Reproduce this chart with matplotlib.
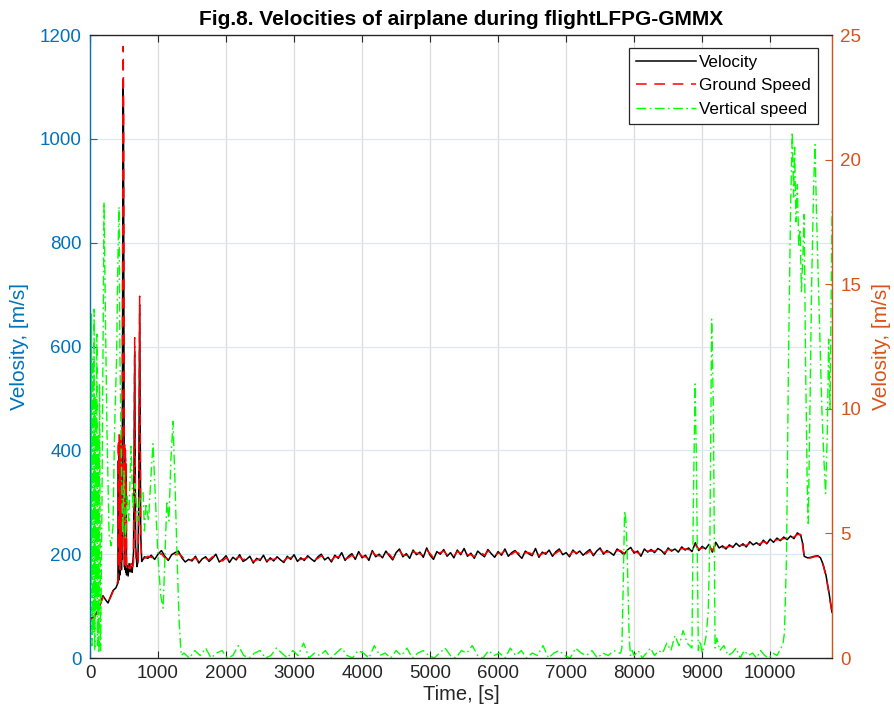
import numpy as np
import matplotlib
matplotlib.use("Agg")
import matplotlib.pyplot as plt

plt.rcParams['font.family'] = ['Liberation Sans', 'DejaVu Sans']

# ---------------- data ----------------
# take-off / climb phase (irregular samples)
early_time = [0, 60, 120, 190, 230, 265, 300, 338, 380, 412,
              417, 422, 427, 432, 437, 442, 447, 452, 457, 462, 467, 472, 477, 482, 487,
              492, 497, 502, 507, 512, 517, 522, 527, 532, 537, 545,
              560, 575, 590, 605, 620, 640, 657, 670, 690, 705, 715, 730, 745, 760, 780]
early_velocity = [75, 80, 92, 120, 112, 106, 118, 130, 135, 145,
                  380, 150, 400, 165, 390, 160, 420, 175, 380, 170, 410, 190, 560, 850, 1100,
                  1050, 650, 380, 175, 390, 170, 370, 165, 350, 160, 178,
                  158, 182, 166, 176, 165, 205, 590, 215, 176, 186, 290, 680, 240, 186, 190]
early_ground = [74, 78, 90, 118, 113, 108, 116, 128, 137, 150,
                420, 175, 430, 180, 425, 170, 433, 190, 410, 185, 430, 200, 640, 900, 1178,
                1100, 700, 420, 190, 415, 180, 400, 175, 380, 170, 172,
                168, 176, 172, 182, 170, 185, 617, 200, 181, 182, 250, 697, 225, 190, 192]

# cruise phase, sampled every 50 s from 800 s to 10450 s
cruise_start, cruise_step = 800, 50
cruise_velocity = [
    195, 192, 198, 190, 200, 207, 196, 188, 199, 203,
    206, 193, 185, 190, 187, 196, 183, 191, 195, 186,
    192, 200, 185, 190, 197, 184, 194, 189, 199, 186,
    190, 196, 183, 192, 188, 198, 185, 193, 187, 195,
    189, 184, 196, 190, 199, 186, 193, 188, 197, 191,
    186, 195, 200, 189, 194, 185, 198, 192, 203, 188,
    196, 201, 190, 205, 193, 198, 188, 207, 195, 200,
    193, 206, 197, 189, 203, 210, 195, 201, 192, 208,
    199, 204, 194, 212, 198, 190, 205, 200, 209, 196,
    203, 193, 208, 199, 211, 196, 202, 192, 206, 200,
    195, 209, 201, 194, 205, 198, 210, 196, 203, 207,
    199, 192, 206, 201, 197, 211, 194, 204, 200, 208,
    196, 205, 210, 199, 203, 195, 208, 201, 206, 198,
    204, 209, 197, 206, 212, 200, 207, 203, 198, 210,
    205, 199, 208, 213, 202, 206, 196, 210, 204, 209,
    203, 211, 207, 200, 212, 206, 210, 204, 214, 208,
    212, 205, 222, 207, 215, 210, 219, 204, 223, 212,
    216, 210, 218, 213, 221, 215, 220, 214, 224, 218,
    222, 217, 227, 220, 229, 223, 231, 226, 233, 228,
    235, 230, 241, 236]
cruise_ground = [
    192, 196, 194, 193, 198, 201, 193, 191, 196, 199,
    201, 196, 188, 187, 190, 193, 186, 189, 192, 189,
    195, 196, 188, 187, 193, 188, 190, 192, 195, 189,
    193, 193, 186, 189, 191, 195, 188, 190, 190, 192,
    186, 187, 193, 193, 196, 189, 190, 191, 194, 188,
    189, 192, 197, 192, 191, 188, 195, 195, 199, 191,
    193, 198, 193, 202, 196, 195, 191, 204, 198, 197,
    196, 203, 200, 192, 200, 207, 198, 198, 195, 205,
    202, 201, 197, 208, 201, 193, 202, 203, 206, 199,
    200, 196, 205, 202, 208, 199, 199, 195, 203, 203,
    198, 206, 203, 197, 202, 201, 207, 199, 200, 205,
    202, 195, 203, 203, 200, 208, 197, 201, 203, 205,
    199, 202, 207, 202, 200, 198, 205, 203, 203, 201,
    201, 206, 200, 203, 209, 203, 204, 205, 201, 207,
    207, 202, 205, 210, 205, 203, 199, 207, 206, 206,
    206, 208, 209, 203, 209, 208, 207, 207, 211, 210,
    209, 208, 218, 210, 212, 212, 216, 207, 219, 214,
    213, 213, 215, 216, 218, 217, 217, 217, 221, 220,
    219, 220, 224, 222, 226, 225, 228, 228, 230, 230,
    232, 233, 238, 238]

# descent / landing phase
late_time = [10480, 10500, 10550, 10600, 10650, 10700, 10740, 10780, 10820, 10860, 10910]
late_velocity = [220, 196, 193, 194, 196, 197, 193, 180, 160, 130, 88]
late_ground = [215, 195, 192, 193, 195, 196, 192, 178, 158, 128, 86]

# vertical speed (right axis)
vs_time_early = [0, 10, 20, 30, 40, 50, 60, 70, 80, 90, 100, 110, 120, 130, 140, 155, 175,
                 190, 206, 225, 250, 280, 310, 338, 360, 390, 410, 426, 440, 456, 480, 500,
                 520, 545, 570, 603, 630, 660, 700, 740, 780, 800, 823, 860, 900, 926, 960,
                 1000, 1040, 1075, 1100, 1130, 1160, 1190, 1220, 1250, 1280, 1310, 1340]
vs_early = [16.5, 3, 13.8, 0.5, 12, 1, 14, 0.3, 10.5, 2, 13, 0.5, 9, 0.2, 11, 0.3, 6,
            12, 18.3, 14, 9, 5, 4.5, 5.3, 9, 12, 16, 18.1, 12, 8.7, 5, 7.5,
            4.8, 6.5, 5.5, 8.5, 6, 7, 5.5, 6.5, 6.7, 5.1, 6.2, 5.5, 7.5, 8.6, 6.5,
            4, 2.5, 2.0, 4, 6.3, 5.5, 8, 9.5, 7, 4, 1.5, 0.1]

vs_cruise_start, vs_cruise_step = 1380, 80
vs_cruise = [0.2, 0.0, 0.3, 0.1, 0.4, 0.0, 0.2, 0.3, 0.0, 0.1,
             0.5, 0.1, 0.0, 0.2, 0.3, 0.0, 0.1, 0.4, 0.2, 0.0,
             0.3, 0.1, 0.6, 0.0, 0.2, 0.1, 0.3, 0.0, 0.2, 0.4,
             0.1, 0.0, 0.3, 0.2, 0.0, 0.5, 0.1, 0.2, 0.0, 0.3,
             0.1, 0.4, 0.0, 0.2, 0.3, 0.1, 0.0, 0.2, 0.4, 0.1,
             0.0, 0.3, 0.2, 0.5, 0.1, 0.0, 0.3, 0.1, 0.2, 0.0,
             0.4, 0.1, 0.3, 0.0, 0.2, 0.1, 0.5, 0.0, 0.2, 0.3,
             0.1, 0.0, 0.4, 0.2, 0.1, 0.3, 0.0, 0.2, 0.1, 0.3, 0.2]

vs_time_late = [7800, 7820, 7840, 7860, 7880, 7900, 7925, 7945, 7970,
                8000, 8060, 8120, 8180, 8240, 8300, 8360, 8420, 8480, 8540, 8600, 8660, 8720, 8780,
                8850, 8870, 8897, 8915, 8944, 8970, 9000, 9030, 9060, 9090, 9115, 9140, 9165, 9190, 9215,
                9260, 9320, 9380, 9440, 9500, 9560, 9620, 9680, 9740, 9800, 9860, 9920, 9980, 10040,
                10100, 10160,
                10190, 10210, 10240, 10270, 10300, 10325, 10345, 10360, 10380, 10400, 10420, 10440,
                10460, 10480, 10500, 10520, 10545, 10560, 10580, 10610, 10640, 10660, 10680, 10720,
                10760, 10790, 10815, 10840, 10860, 10880, 10910]
vs_late = [0.2, 0.4, 3.0, 5.9, 5.5, 4.0, 1.0, 0.1, 0.3,
           0.1, 0.3, 0.0, 0.2, 0.4, 0.1, 0.3, 0.2, 0.6, 0.3, 0.9, 0.5, 1.1, 0.6,
           0.4, 6.0, 11.0, 8.0, 0.3, 0.7, 0.2, 0.5, 0.9, 1.9, 5.0, 13.6, 10.0, 0.4, 0.8,
           0.3, 0.5, 0.1, 0.2, 0.4, 0.0, 0.3, 0.1, 0.2, 0.0, 0.3, 0.1, 0.0, 0.2,
           0.1, 0.4,
           0.6, 1.0, 4.0, 12.0, 18.0, 21.1, 18.5, 20.5, 17.5, 19.0, 16.5, 17.2,
           14.7, 16.0, 17.8, 12.0, 7.0, 5.4, 9.0, 15.0, 19.0, 20.6, 18.0, 14.0,
           10.0, 8.0, 6.6, 9.0, 12.8, 10.0, 18.0]

x_ticks = [0, 1000, 2000, 3000, 4000, 5000, 6000, 7000, 8000, 9000, 10000]
left_ticks = [0, 200, 400, 600, 800, 1000, 1200]
right_ticks = [0, 5, 10, 15, 20, 25]

# ---------------- assemble ----------------
cruise_time = [cruise_start + i * cruise_step for i in range(len(cruise_velocity))]
time = early_time + cruise_time + late_time
velocity = early_velocity + cruise_velocity + late_velocity
ground = early_ground + cruise_ground + late_ground
vs_cruise_time = [vs_cruise_start + i * vs_cruise_step for i in range(len(vs_cruise))]
vs_time = vs_time_early + vs_cruise_time + vs_time_late
vs = vs_early + vs_cruise + vs_late

BLUE = '#0072BD'
ORANGE = '#D95319'
DARK = '#262626'

fig = plt.figure(figsize=(8.94, 7.19), dpi=100)
ax = fig.add_axes([0.1007, 0.0848, 0.8300, 0.8665])
ax2 = ax.twinx()

l1, = ax.plot(time, velocity, color='black', lw=1.1, label='Velocity')
l2, = ax.plot(time, ground, color='red', lw=1.1, ls=(0, (7, 5)), label='Ground Speed')
l3, = ax2.plot(vs_time, vs, color='#00FF00', lw=1.0, ls=(0, (7, 2.5, 1.2, 2.5)), label='Vertical speed')

ax.set_xlim(0, 10910)
ax.set_ylim(0, 1200)
ax2.set_ylim(0, 25)
ax.set_xticks(x_ticks)
ax.set_yticks(left_ticks)
ax2.set_yticks(right_ticks)

ax.grid(True, axis='x', color='#DCDCDC', lw=0.9)
ax.grid(True, axis='y', color='#DAE8F3', lw=0.9)
ax.set_axisbelow(True)

ax.tick_params(axis='x', direction='in', length=5, width=0.8, colors=DARK, labelsize=13.5,
               top=True, pad=5)
ax.tick_params(axis='y', direction='in', length=5, width=0.8, colors=BLUE, labelsize=13.5, pad=6)
ax2.tick_params(axis='y', direction='in', length=5, width=0.8, colors=ORANGE, labelsize=13.5, pad=6)

for sp in ['top', 'bottom']:
    ax2.spines[sp].set_color(DARK)
ax2.spines['left'].set_color(BLUE)
ax2.spines['right'].set_color(ORANGE)
for sp in ax2.spines.values():
    sp.set_linewidth(0.9)

ax.set_xlabel('Time, [s]', fontsize=14.5, color=DARK, labelpad=2)
ax.set_ylabel('Velosity, [m/s]', fontsize=15, color=BLUE, labelpad=8)
ax2.set_ylabel('Velosity, [m/s]', fontsize=15, color=ORANGE, labelpad=8)
ax.set_title('Fig.8. Velocities of airplane during flightLFPG-GMMX', fontsize=15,
             fontweight='bold', pad=7)

leg = ax2.legend(handles=[l1, l2, l3], loc='upper right', bbox_to_anchor=(0.981, 0.979),
                 borderaxespad=0, fancybox=False, edgecolor=DARK, framealpha=1,
                 fontsize=12.3, handlelength=3.5, handletextpad=0.2, borderpad=0.4,
                 labelspacing=0.5)
leg.get_frame().set_linewidth(0.9)

fig.savefig('out.png', dpi=100)
